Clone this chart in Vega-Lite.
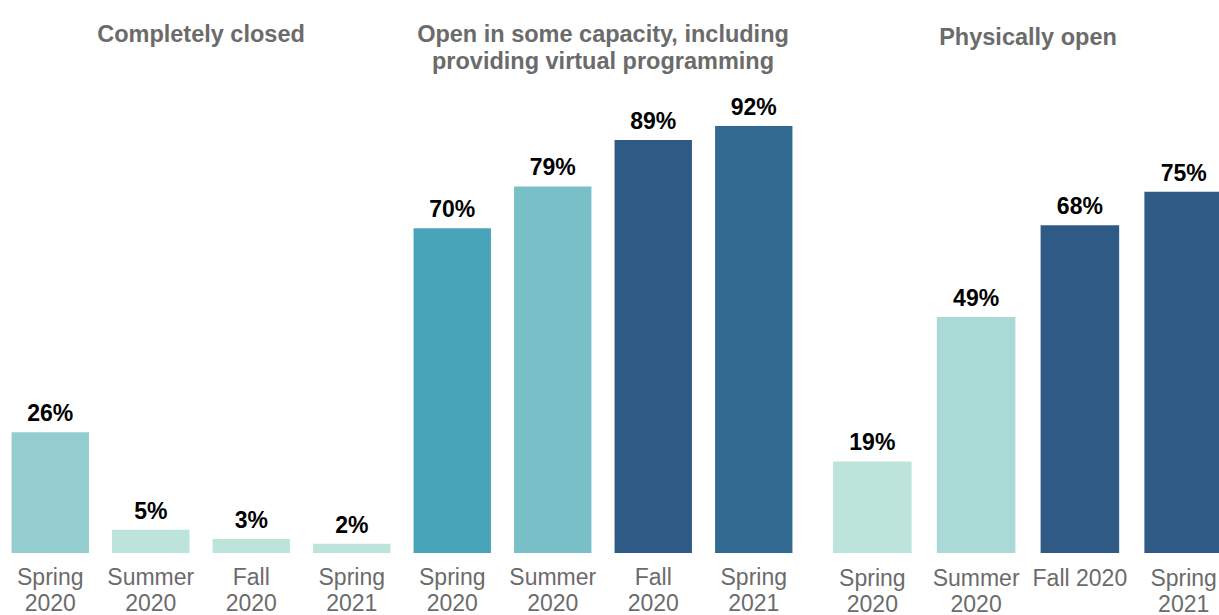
{
  "$schema": "https://vega.github.io/schema/vega-lite/v6.json",
  "padding": {"left": 0, "right": 0, "top": 22, "bottom": 0},
  "background": "white",
  "spacing": 0,
  "config": {"view": {"stroke": null}, "font": "Liberation Sans"},
  "datasets": {
    "d": [
      {"panel": "closed", "period": "Spring 2020", "value": 0.26, "tone": "teal"},
      {"panel": "closed", "period": "Summer 2020", "value": 0.05, "tone": "pale"},
      {"panel": "closed", "period": "Fall 2020", "value": 0.03, "tone": "pale"},
      {"panel": "closed", "period": "Spring 2021", "value": 0.02, "tone": "pale"},
      {"panel": "some", "period": "Spring 2020", "value": 0.70, "tone": "ocean"},
      {"panel": "some", "period": "Summer 2020", "value": 0.79, "tone": "aqua"},
      {"panel": "some", "period": "Fall 2020", "value": 0.89, "tone": "navy"},
      {"panel": "some", "period": "Spring 2021", "value": 0.92, "tone": "steel"},
      {"panel": "physical", "period": "Spring 2020", "value": 0.19, "tone": "pale"},
      {"panel": "physical", "period": "Summer 2020", "value": 0.49, "tone": "mint"},
      {"panel": "physical", "period": "Fall 2020", "value": 0.68, "tone": "navy"},
      {"panel": "physical", "period": "Spring 2021", "value": 0.75, "tone": "navy"}
    ]
  },
  "hconcat": [
    {
      "width": 402, "height": 464,
      "title": {"text": "Completely closed", "offset": 43, "fontSize": 23.5, "fontWeight": "bold", "color": "#6b6b6b", "font": "Liberation Sans", "lineHeight": 27},
      "data": {"name": "d"},
      "transform": [{"filter": "datum.panel == 'closed'"}],
      "encoding": {
        "x": {"field": "period", "type": "nominal", "sort": null,
          "scale": {"paddingInner": 0.23, "paddingOuter": 0.115},
          "axis": {"title": null, "domain": false, "ticks": false, "labelAngle": 0, "labelFontSize": 23, "labelColor": "#6b6b6b", "labelPadding": 13, "labelLineHeight": 26, "labelOverlap": false, "labelExpr": "split(datum.label, ' ')"}},
        "y": {"field": "value", "type": "quantitative", "scale": {"domain": [0, 1], "nice": false}, "axis": null}
      },
      "layer": [
        {"mark": {"type": "bar"}, "encoding": {"color": {"field": "tone", "type": "nominal", "legend": null,
          "scale": {"domain": ["teal", "pale", "ocean", "aqua", "navy", "steel", "mint"], "range": ["#93CDCD", "#BDE4DA", "#48A4B8", "#79BFC8", "#2E5A85", "#336A91", "#A9DAD6"]}}}},
        {"mark": {"type": "text", "baseline": "alphabetic", "dy": -11, "fontSize": 23, "fontWeight": "bold", "color": "black"},
          "encoding": {"text": {"field": "value", "type": "quantitative", "format": ".0%"}}}
      ]
    },
    {
      "width": 402, "height": 464,
      "title": {"text": ["Open in some capacity, including", "providing virtual programming"], "offset": 16, "fontSize": 23.5, "fontWeight": "bold", "color": "#6b6b6b", "font": "Liberation Sans", "lineHeight": 27},
      "data": {"name": "d"},
      "transform": [{"filter": "datum.panel == 'some'"}],
      "encoding": {
        "x": {"field": "period", "type": "nominal", "sort": null,
          "scale": {"paddingInner": 0.23, "paddingOuter": 0.115},
          "axis": {"title": null, "domain": false, "ticks": false, "labelAngle": 0, "labelFontSize": 23, "labelColor": "#6b6b6b", "labelPadding": 13, "labelLineHeight": 26, "labelOverlap": false, "labelExpr": "split(datum.label, ' ')"}},
        "y": {"field": "value", "type": "quantitative", "scale": {"domain": [0, 1], "nice": false}, "axis": null}
      },
      "layer": [
        {"mark": {"type": "bar"}, "encoding": {"color": {"field": "tone", "type": "nominal", "legend": null}}},
        {"mark": {"type": "text", "baseline": "alphabetic", "dy": -11, "fontSize": 23, "fontWeight": "bold", "color": "black"},
          "encoding": {"text": {"field": "value", "type": "quantitative", "format": ".0%"}}}
      ]
    },
    {
      "width": 448, "height": 464,
      "title": {"text": "Physically open", "offset": 40, "fontSize": 23.5, "fontWeight": "bold", "color": "#6b6b6b", "font": "Liberation Sans", "lineHeight": 27},
      "data": {"name": "d"},
      "transform": [{"filter": "datum.panel == 'physical'"}],
      "encoding": {
        "x": {"field": "period", "type": "nominal", "sort": null,
          "scale": {"paddingInner": 0.243, "paddingOuter": 0.28},
          "axis": {"title": null, "domain": false, "ticks": false, "labelAngle": 0, "labelFontSize": 23, "labelColor": "#6b6b6b", "labelPadding": 14, "labelLineHeight": 26, "labelOverlap": false, "labelExpr": "datum.label == 'Fall 2020' ? datum.label : split(datum.label, ' ')"}},
        "y": {"field": "value", "type": "quantitative", "scale": {"domain": [0, 0.963], "nice": false}, "axis": null}
      },
      "layer": [
        {"mark": {"type": "bar"}, "encoding": {"color": {"field": "tone", "type": "nominal", "legend": null}}},
        {"mark": {"type": "text", "baseline": "alphabetic", "dy": -11, "fontSize": 23, "fontWeight": "bold", "color": "black"},
          "encoding": {"text": {"field": "value", "type": "quantitative", "format": ".0%"}}}
      ]
    }
  ]
}
